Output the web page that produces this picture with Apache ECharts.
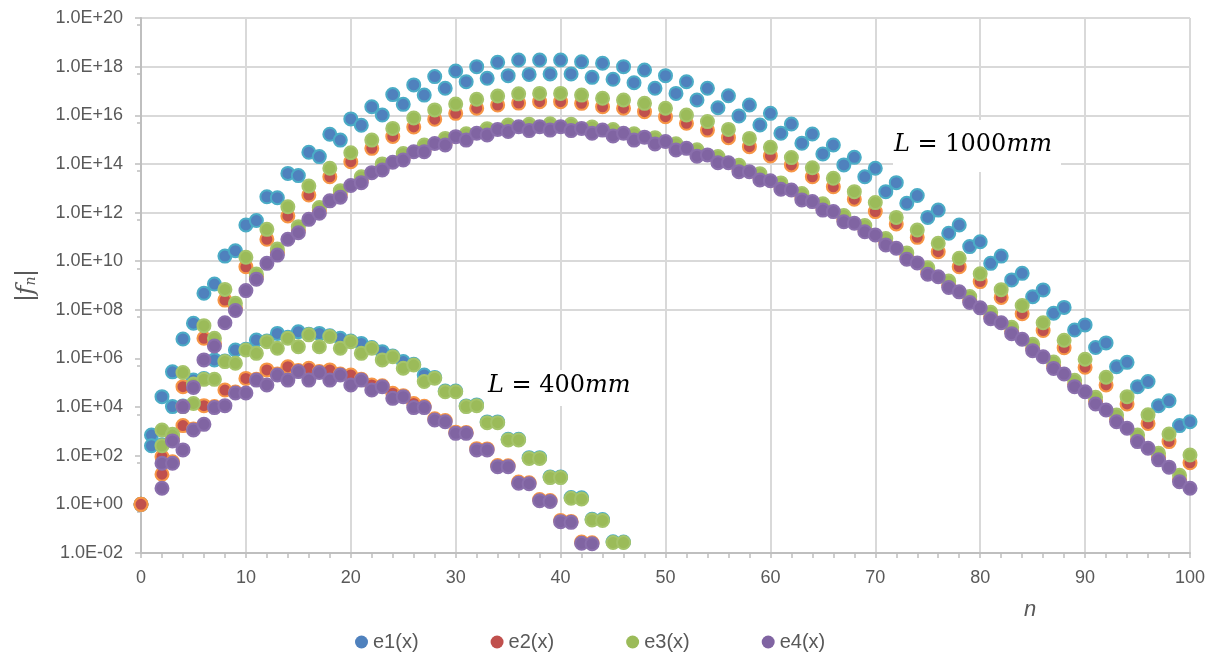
<!DOCTYPE html>
<html>
<head>
<meta charset="utf-8">
<title>|f_n| vs n</title>
<script src="https://cdn.jsdelivr.net/npm/echarts@6/dist/echarts.min.js"></script>
<style>
  html, body { margin: 0; padding: 0; background: #fff; }
  #chart { width: 1213px; height: 661px; }
</style>
</head>
<body>
<div id="chart"></div>
<script>
// --- Data: log10 |f_n|, index = n; null = no point ---

// L = 1000mm, n = 0..100
const e1_L1000 = [0, 2.85, 4.43, 5.45, 6.8, 7.45, 8.68, 9.06, 10.21, 10.43,
  11.49, 11.67, 12.65, 12.61, 13.61, 13.52, 14.48, 14.3, 15.22, 14.98,
  15.85, 15.59, 16.35, 16.01, 16.85, 16.45, 17.25, 16.83, 17.59, 17.11,
  17.82, 17.38, 18.0, 17.52, 18.18, 17.63, 18.27, 17.68, 18.27, 17.7,
  18.27, 17.7, 18.2, 17.56, 18.14, 17.48, 18.0, 17.34, 17.86, 17.11,
  17.63, 16.9, 17.38, 16.63, 17.11, 16.31, 16.8, 15.97, 16.42, 15.6,
  16.08, 15.26, 15.64, 14.85, 15.23, 14.41, 14.78, 13.96, 14.27, 13.47,
  13.82, 12.86, 13.23, 12.38, 12.7, 11.8, 12.1, 11.15, 11.49, 10.6,
  10.8, 9.91, 10.21, 9.23, 9.5, 8.54, 8.82, 7.86, 8.1, 7.17,
  7.38, 6.45, 6.64, 5.66, 5.84, 4.84, 5.05, 4.06, 4.26, 3.24, 3.4];

const e2_L1000 = [0, null, 1.96, 2.7, 4.84, 4.9, 6.83, 6.6, 8.4, 8.07,
  9.77, 9.36, 10.9, 10.35, 11.86, 11.27, 12.72, 12.07, 13.47, 12.73,
  14.09, 13.33, 14.64, 13.85, 15.13, 14.26, 15.52, 14.6, 15.84, 14.88,
  16.08, 15.08, 16.29, 15.29, 16.42, 15.43, 16.5, 15.47, 16.56, 15.49,
  16.56, 15.47, 16.49, 15.36, 16.35, 15.25, 16.29, 15.08, 16.15, 14.92,
  15.94, 14.67, 15.67, 14.42, 15.39, 14.15, 15.08, 13.78, 14.71, 13.44,
  14.33, 13.06, 13.96, 12.62, 13.47, 12.2, 13.06, 11.72, 12.55, 11.31,
  12.04, 10.77, 11.53, 10.18, 10.98, 9.56, 10.39, 9.02, 9.77, 8.4,
  9.16, 7.73, 8.51, 7.12, 7.84, 6.42, 7.15, 5.69, 6.44, 4.94,
  5.64, 4.23, 4.91, 3.5, 4.13, 2.68, 3.33, 1.93, 2.58, 1.03, 1.71];

const e3_L1000 = [null, null, 3.06, 2.88, 5.42, 4.95, 7.35, 6.83, 8.84, 8.27,
  10.16, 9.47, 11.31, 10.5, 12.24, 11.42, 13.09, 12.21, 13.82, 12.9,
  14.46, 13.47, 14.98, 14.0, 15.46, 14.43, 15.89, 14.78, 16.22, 15.05,
  16.46, 15.24, 16.66, 15.45, 16.79, 15.6, 16.88, 15.63, 16.9, 15.65,
  16.9, 15.63, 16.83, 15.52, 16.7, 15.41, 16.63, 15.24, 16.49, 15.08,
  16.29, 14.83, 16.01, 14.58, 15.74, 14.3, 15.42, 13.94, 15.05, 13.6,
  14.68, 13.22, 14.26, 12.78, 13.84, 12.36, 13.41, 11.88, 12.86, 11.47,
  12.41, 10.93, 11.8, 10.34, 11.28, 9.73, 10.74, 9.18, 10.12, 8.55,
  9.48, 7.9, 8.83, 7.28, 8.18, 6.58, 7.47, 5.85, 6.75, 5.1,
  5.97, 4.4, 5.23, 3.67, 4.43, 2.85, 3.68, 2.1, 2.89, 1.2, 2.03];

const e4_L1000 = [null, null, 1.69, 2.61, 4.02, 4.81, 5.94, 6.51, 7.47, 7.97,
  8.79, 9.26, 9.91, 10.25, 10.9, 11.17, 11.72, 11.97, 12.48, 12.63,
  13.11, 13.23, 13.64, 13.75, 14.07, 14.16, 14.5, 14.5, 14.84, 14.78,
  15.12, 14.98, 15.26, 15.19, 15.42, 15.33, 15.53, 15.37, 15.53, 15.39,
  15.53, 15.37, 15.46, 15.26, 15.39, 15.15, 15.26, 14.98, 15.1, 14.82,
  14.92, 14.57, 14.64, 14.32, 14.37, 14.05, 14.05, 13.68, 13.68, 13.34,
  13.31, 12.96, 12.93, 12.52, 12.45, 12.1, 12.04, 11.62, 11.56, 11.21,
  11.08, 10.67, 10.53, 10.08, 9.93, 9.46, 9.36, 8.92, 8.74, 8.3,
  8.08, 7.63, 7.47, 7.02, 6.79, 6.32, 6.07, 5.59, 5.36, 4.84,
  4.63, 4.13, 3.88, 3.4, 3.13, 2.58, 2.31, 1.83, 1.53, 0.93, 0.66];

// L = 400mm, n = 0..46 (e2, e4 stop at 43)
const e1_L400 = [0, 2.41, 2.45, 4.02, 4.05, 5.11, 5.18, 5.94, 5.9, 6.35,
  6.38, 6.76, 6.72, 7.03, 6.87, 7.1, 7.0, 7.03, 6.93, 6.83,
  6.72, 6.62, 6.45, 6.28, 6.1, 5.87, 5.76, 5.32, 5.22, 4.66,
  4.66, 4.05, 4.09, 3.39, 3.39, 2.68, 2.68, 1.92, 1.92, 1.13,
  1.13, 0.28, 0.27, -0.61, -0.62, -1.54, -1.55];

const e2_L400 = [0, null, 1.24, 1.75, 3.24, 3.1, 4.06, 4.02, 4.7, 4.62,
  5.18, 5.15, 5.53, 5.36, 5.66, 5.5, 5.6, 5.46, 5.53, 5.36,
  5.32, 5.15, 4.91, 4.88, 4.57, 4.47, 4.15, 4.03, 3.52, 3.45,
  2.97, 2.96, 2.29, 2.28, 1.6, 1.59, 0.92, 0.89, 0.2, 0.16,
  -0.66, -0.7, -1.55, -1.58];

const e3_L400 = [null, null, 2.41, 2.85, 4.02, 4.15, 5.14, 5.14, 5.87, 5.8,
  6.35, 6.21, 6.69, 6.42, 6.83, 6.48, 6.97, 6.48, 6.9, 6.42,
  6.69, 6.21, 6.42, 5.94, 6.07, 5.6, 5.73, 5.05, 5.19, 4.63,
  4.63, 4.02, 4.06, 3.36, 3.36, 2.65, 2.65, 1.89, 1.89, 1.1,
  1.1, 0.25, 0.22, -0.64, -0.66, -1.57, -1.57];

const e4_L400 = [null, null, 0.66, 1.69, 2.24, 3.06, 3.29, 3.98, 4.06, 4.58,
  4.58, 5.11, 4.91, 5.32, 5.11, 5.46, 5.11, 5.42, 5.11, 5.32,
  4.91, 5.11, 4.7, 4.84, 4.36, 4.43, 3.98, 3.98, 3.47, 3.4,
  2.92, 2.92, 2.24, 2.24, 1.55, 1.55, 0.87, 0.85, 0.15, 0.12,
  -0.71, -0.74, -1.6, -1.62];

const seriesNames = ['e1(x)', 'e2(x)', 'e3(x)', 'e4(x)'];
const fillColors = ['#4F81BD', '#C0504D', '#9BBB59', '#8064A2'];
const edgeColors = ['#4BACC6', '#F79646', '#A5C46A', '#8A6FAC'];

// --- Helpers ---
function toPoints(logs) {
  const pts = [];
  logs.forEach((v, n) => {
    if (v !== null) pts.push([n, Math.pow(10, v)]);
  });
  return pts;
}

function sciLabel(v) {
  const e = Math.round(Math.log10(v));
  return '1.0E' + (e < 0 ? '-' : '+') + String(Math.abs(e)).padStart(2, '0');
}

const groups = [
  [e1_L1000, e1_L400],
  [e2_L1000, e2_L400],
  [e3_L1000, e3_L400],
  [e4_L1000, e4_L400],
];

const series = groups.map(([big, small], i) => ({
  name: seriesNames[i],
  type: 'scatter',
  symbol: 'circle',
  symbolSize: 13,
  data: toPoints(big).concat(toPoints(small)),
  itemStyle: { color: fillColors[i], borderColor: edgeColors[i], borderWidth: 2, opacity: 1 },
  emphasis: { disabled: true },
  z: 2 + i,
}));

// gridlines only from 1e8 upwards (lines counted from min = 1e-2)
const gridColors = ['rgba(0,0,0,0)', 'rgba(0,0,0,0)', 'rgba(0,0,0,0)', 'rgba(0,0,0,0)', 'rgba(0,0,0,0)',
  '#d9d9d9', '#d9d9d9', '#d9d9d9', '#d9d9d9', '#d9d9d9', '#d9d9d9', '#d9d9d9'];

const labelFont = "'Liberation Sans', Arial, sans-serif";
const mathFont = "'DejaVu Serif', 'Liberation Serif', serif";

const chart = echarts.init(document.getElementById('chart'), null, { renderer: 'canvas' });

chart.setOption({
  backgroundColor: '#fff',
  animation: false,
  grid: { left: 141, right: 23, top: 18, bottom: 108, containLabel: false },
  xAxis: {
    type: 'value',
    min: 0,
    max: 100,
    interval: 10,
    axisLine: { show: true, onZero: false, lineStyle: { color: '#bfbfbf', width: 2 } },
    axisTick: { show: true, length: 5, lineStyle: { color: '#bfbfbf', width: 1.5 } },
    minorTick: { show: true, splitNumber: 5, length: 5, lineStyle: { color: '#bfbfbf', width: 1.5 } },
    axisLabel: { color: '#595959', fontSize: 18, fontFamily: labelFont, margin: 16 },
    splitLine: { show: true, showMinLine: false, lineStyle: { color: '#d9d9d9', width: 2 } },
  },
  yAxis: {
    type: 'log',
    logBase: 10,
    min: 1e-2,
    max: 1e20,
    interval: 2,
    axisLine: { show: true, onZero: false, lineStyle: { color: '#bfbfbf', width: 2 } },
    axisTick: { show: true, length: 6, lineStyle: { color: '#bfbfbf', width: 1.5 } },
    minorTick: { show: true, splitNumber: 2, length: 4, lineStyle: { color: '#bfbfbf', width: 1.5 } },
    axisLabel: { color: '#595959', fontSize: 18, fontFamily: labelFont, margin: 18, formatter: sciLabel },
    splitLine: { show: true, showMinLine: true, lineStyle: { color: gridColors, width: 2 } },
    name: '|{f|f}{s|n}|',
    nameLocation: 'middle',
    nameRotate: 90,
    nameGap: 102,
    nameTextStyle: {
      color: '#595959',
      fontSize: 25,
      fontFamily: labelFont,
      rich: {
        f: { fontSize: 25, fontStyle: 'italic', fontFamily: mathFont, color: '#595959' },
        s: { fontSize: 14, fontStyle: 'italic', fontFamily: mathFont, color: '#595959', padding: [10, 0, 0, 0] },
      },
    },
  },
  legend: {
    data: seriesNames,
    bottom: 4,
    left: 350,
    icon: 'circle',
    itemWidth: 13,
    itemHeight: 13,
    itemGap: 72,
    itemStyle: { borderWidth: 0 },
    textStyle: { color: '#595959', fontSize: 20, fontFamily: labelFont },
  },
  graphic: [
    {
      type: 'text',
      left: 1024,
      top: 599,
      style: { text: 'n', fill: '#595959', font: "italic 22px 'Liberation Sans', Arial, sans-serif" },
    },
    {
      type: 'rect',
      left: 893,
      top: 120,
      shape: { width: 168, height: 52 },
      style: { fill: '#fff' },
      z: 10,
    },
    {
      type: 'text',
      left: 894,
      top: 133,
      z: 11,
      style: {
        text: '{i|L} = 1000{i|mm}',
        fill: '#000',
        font: "24px 'DejaVu Serif', serif",
        rich: { i: { fontStyle: 'italic', fontSize: 24, fontFamily: mathFont, fill: '#000' } },
      },
    },
    {
      type: 'rect',
      left: 484,
      top: 370,
      shape: { width: 150, height: 36 },
      style: { fill: '#fff' },
      z: 10,
    },
    {
      type: 'text',
      left: 488,
      top: 374,
      z: 11,
      style: {
        text: '{i|L} = 400{i|mm}',
        fill: '#000',
        font: "24px 'DejaVu Serif', serif",
        rich: { i: { fontStyle: 'italic', fontSize: 24, fontFamily: mathFont, fill: '#000' } },
      },
    },
  ],
  series,
});

window.addEventListener('resize', () => chart.resize());
</script>
</body>
</html>
